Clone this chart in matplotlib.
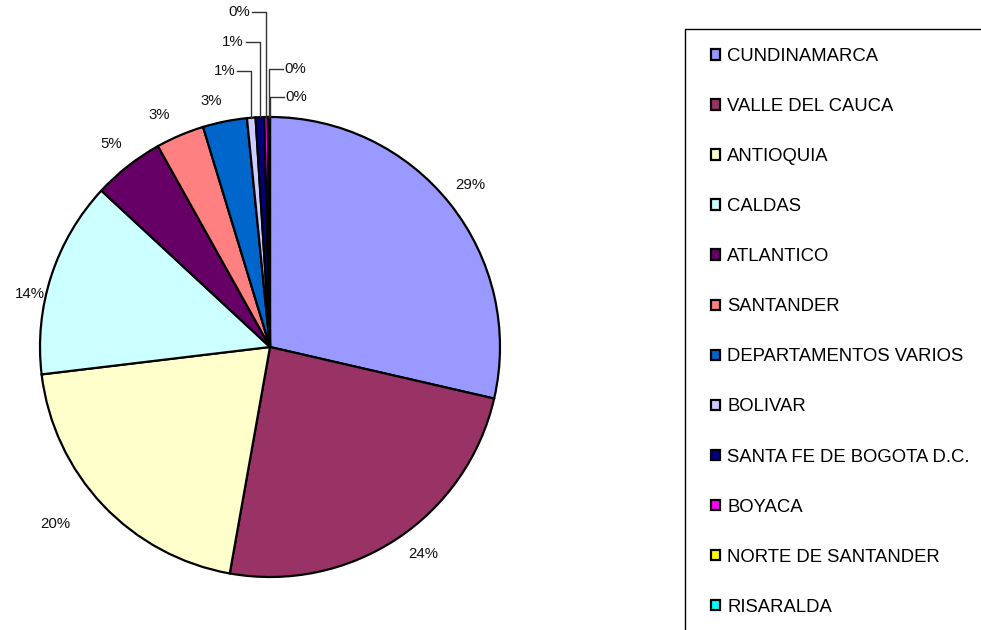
import matplotlib
matplotlib.use("Agg")
import matplotlib.pyplot as plt
from matplotlib.patches import Rectangle
import numpy as np

plt.rcParams['font.family'] = ['Liberation Sans', 'DejaVu Sans']

departments = ["CUNDINAMARCA", "VALLE DEL CAUCA", "ANTIOQUIA", "CALDAS", "ATLANTICO",
               "SANTANDER", "DEPARTAMENTOS VARIOS", "BOLIVAR", "SANTA FE DE BOGOTA D.C.",
               "BOYACA", "NORTE DE SANTANDER", "RISARALDA"]
shares = [28.6, 24.2, 20.3, 13.8, 5.0, 3.4, 3.1, 0.6, 0.6, 0.25, 0.1, 0.05]
colors = ["#9999FF", "#993366", "#FFFFCC", "#CCFFFF", "#660066", "#FF8080",
          "#0066CC", "#CCCCFF", "#000080", "#FF00FF", "#FFFF00", "#00FFFF"]

W, H = 981, 630
fig = plt.figure(figsize=(W / 100, H / 100), dpi=100)
ax = fig.add_axes([0, 0, 1, 1])

# pixel-like coordinates, y measured from the bottom
cx, cy, R = 270, H - 347, 230
wedges, _ = ax.pie(shares, colors=colors, startangle=90, counterclock=False,
                   center=(cx, cy), radius=R, frame=True,
                   wedgeprops=dict(edgecolor="black", linewidth=1.6))
ax.set_xlim(0, W)
ax.set_ylim(0, H)
ax.axis("off")

# labels of the larger slices sit just outside the rim (distance, angle nudge)
label_pos = [(1.12, 0.5), (1.12, 3), (1.21, -4), (1.07, 5.5), (1.12, 0), (1.12, 2.5), (1.10, 2)]
for w, v, (d, nudge) in zip(wedges, shares, label_pos):
    mid = np.deg2rad((w.theta1 + w.theta2) / 2 + nudge)
    ax.text(cx + d * R * np.cos(mid), cy + d * R * np.sin(mid), f"{v:.0f}%",
            ha="center", va="center", fontsize=10.8, color="#111111")

# thin slices near the top get leader lines: (side, label height from top)
leaders = [(-1, 71), (-1, 42), (-1, 12), (1, 69), (1, 97)]
for w, v, (side, ytop) in zip(wedges[7:], shares[7:], leaders):
    mid = np.deg2rad((w.theta1 + w.theta2) / 2)
    x0, y0 = cx + R * np.cos(mid), cy + R * np.sin(mid)
    yl = H - ytop
    ax.plot([x0, x0, x0 + side * 14], [y0, yl, yl], color="#333333", lw=1)
    ax.text(x0 + side * 16, yl, f"{v:.0f}%", ha="left" if side > 0 else "right",
            va="center", fontsize=10.8, color="#111111")

# legend box runs off the right and bottom edges
ax.add_patch(Rectangle((685, -20), 400, H - 29 + 20, facecolor="none",
                       edgecolor="black", lw=1, clip_on=False))
ax.legend(wedges, departments, loc="upper left",
          bbox_to_anchor=(711 / W, 1 - 48 / H), bbox_transform=fig.transFigure,
          frameon=False, fontsize=13.3, handlelength=0.5, handleheight=0.5,
          handletextpad=0.38, labelspacing=1.79, borderpad=0, borderaxespad=0)

fig.savefig("out.png", dpi=100)
